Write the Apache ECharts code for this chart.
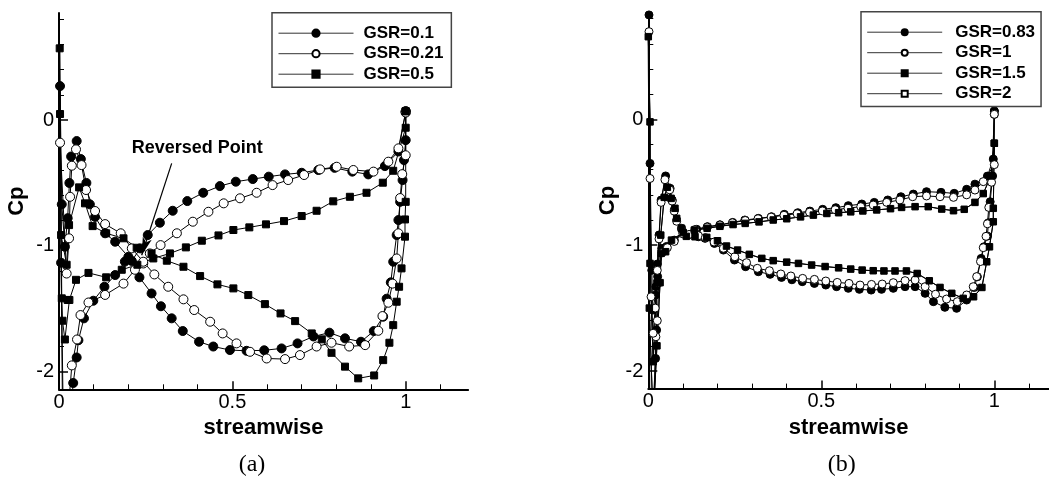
<!DOCTYPE html>
<html>
<head>
<meta charset="utf-8">
<title>Cp vs streamwise</title>
<script src="https://cdn.jsdelivr.net/npm/echarts@6/dist/echarts.min.js"></script>
<style>
html, body { margin: 0; padding: 0; background: #fff; }
#chart { width: 1049px; height: 477px; }
</style>
</head>
<body>
<div id="chart"></div>
<script>
// ticks
const xMajorTicks = [0, 0.5, 1];
const xMinorTicks = [0.1, 0.2, 0.3, 0.4, 0.6, 0.7, 0.8, 0.9, 1.1];
const yMajorTicks = [-2, -1, 0];
const yMinorTicks = [-1.8, -1.6, -1.4, -1.2, -0.8, -0.6, -0.4, -0.2, 0.2, 0.4, 0.6, 0.8];

// panel (a): [streamwise, Cp], each curve runs round the blade from the trailing edge
const gsr01 = [
  [1.0, 0.07], [0.979, -0.25], [0.94, -0.366], [0.892, -0.432], [0.846, -0.41], [0.795, -0.38],
  [0.748, -0.397], [0.70, -0.419], [0.652, -0.432], [0.605, -0.45], [0.559, -0.469], [0.51, -0.49],
  [0.464, -0.525], [0.416, -0.578], [0.37, -0.644], [0.328, -0.721], [0.291, -0.816], [0.256, -0.914],
  [0.234, -1.02], [0.21, -1.12], [0.19, -1.125], [0.162, -1.232], [0.131, -1.325], [0.099, -1.436],
  [0.072, -1.576], [0.056, -1.75], [0.051, -1.887], [0.041, -2.09], [0.03, -2.45], [0.012, -2.3],
  [0.006, -1.134], [0.003, 0.27], [0.008, -0.67], [0.017, -1.007], [0.025, -0.78], [0.03, -0.5],
  [0.035, -0.29], [0.051, -0.167], [0.063, -0.31], [0.079, -0.5], [0.089, -0.67], [0.104, -0.77],
  [0.133, -0.9], [0.162, -0.967], [0.2, -1.087], [0.232, -1.25], [0.267, -1.378], [0.294, -1.48],
  [0.325, -1.576], [0.357, -1.677], [0.404, -1.762], [0.445, -1.8], [0.493, -1.828], [0.541, -1.834],
  [0.592, -1.83], [0.642, -1.815], [0.688, -1.775], [0.734, -1.72], [0.78, -1.69], [0.825, -1.735],
  [0.871, -1.762], [0.908, -1.677], [0.935, -1.563], [0.945, -1.42], [0.957, -1.29], [0.964, -1.126],
  [0.974, -0.914], [0.979, -0.795], [0.984, -0.65], [0.991, -0.477], [0.995, -0.318], [1.0, -0.16],
  [1.0, 0.07]
];
const gsr021 = [
  [1.0, 0.06], [0.979, -0.225], [0.95, -0.331], [0.907, -0.41], [0.849, -0.397], [0.801, -0.371],
  [0.753, -0.392], [0.707, -0.437], [0.661, -0.477], [0.616, -0.517], [0.57, -0.578], [0.522, -0.622],
  [0.475, -0.662], [0.431, -0.729], [0.386, -0.808], [0.34, -0.9], [0.293, -0.994], [0.262, -1.06],
  [0.243, -1.14], [0.219, -1.19], [0.186, -1.3], [0.133, -1.39], [0.085, -1.45], [0.062, -1.55],
  [0.052, -1.744], [0.037, -1.95], [0.024, -2.4], [0.01, -2.3], [0.003, -0.18], [0.022, -1.22],
  [0.029, -0.94], [0.032, -0.61], [0.037, -0.363], [0.049, -0.233], [0.065, -0.358], [0.078, -0.556],
  [0.104, -0.723], [0.133, -0.827], [0.178, -0.9], [0.21, -1.02], [0.243, -1.126], [0.275, -1.227],
  [0.315, -1.325], [0.359, -1.425], [0.39, -1.51], [0.436, -1.603], [0.472, -1.696], [0.512, -1.775],
  [0.551, -1.842], [0.599, -1.895], [0.652, -1.9], [0.695, -1.868], [0.743, -1.8], [0.786, -1.77],
  [0.837, -1.8], [0.883, -1.789], [0.921, -1.675], [0.933, -1.558], [0.95, -1.452], [0.962, -1.3],
  [0.974, -1.1], [0.979, -0.9], [0.984, -0.62], [0.99, -0.43], [1.0, -0.28], [1.0, 0.06]
];
const gsr05 = [
  [1.0, 0.07], [1.0, -0.061], [0.964, -0.403], [0.934, -0.498], [0.887, -0.578], [0.839, -0.61],
  [0.791, -0.646], [0.743, -0.721], [0.70, -0.763], [0.649, -0.803], [0.597, -0.829], [0.549, -0.853],
  [0.503, -0.874], [0.46, -0.917], [0.412, -0.959], [0.366, -1.012], [0.32, -1.06], [0.272, -1.1],
  [0.226, -1.15], [0.181, -1.19], [0.136, -1.25], [0.085, -1.215], [0.049, -1.27], [0.03, -1.43],
  [0.025, -1.43], [0.017, -1.744], [0.01, -1.595], [0.008, -1.417], [0.002, 0.57], [0.003, 0.048],
  [0.006, -0.914], [0.022, -1.15], [0.029, -0.835], [0.058, -0.535], [0.075, -0.662], [0.097, -0.843],
  [0.136, -0.9], [0.186, -0.94], [0.224, -1.015], [0.267, -1.06], [0.311, -1.118], [0.359, -1.166],
  [0.407, -1.24], [0.457, -1.306], [0.503, -1.338], [0.546, -1.391], [0.594, -1.463], [0.639, -1.537],
  [0.681, -1.598], [0.729, -1.696], [0.758, -1.743], [0.786, -1.85], [0.825, -1.96], [0.863, -2.053],
  [0.909, -2.03], [0.935, -1.908], [0.953, -1.77], [0.964, -1.63], [0.974, -1.444], [0.981, -1.325],
  [0.988, -1.179], [0.998, -0.927], [0.998, -0.79], [1.0, -0.65], [1.0, 0.07]
];

// panel (b)
const gsr083 = [
  [1.0, 0.066], [0.997, -0.316], [0.98, -0.451], [0.944, -0.515], [0.92, -0.556], [0.884, -0.588],
  [0.846, -0.58], [0.804, -0.575], [0.766, -0.594], [0.73, -0.615], [0.692, -0.641], [0.653, -0.66],
  [0.617, -0.673], [0.578, -0.686], [0.542, -0.702], [0.504, -0.715], [0.467, -0.729], [0.432, -0.742],
  [0.393, -0.755], [0.356, -0.774], [0.318, -0.787], [0.279, -0.8], [0.244, -0.819], [0.207, -0.838],
  [0.171, -0.853], [0.14, -0.874], [0.1, -0.9], [0.075, -0.96], [0.053, -1.01], [0.039, -1.025],
  [0.027, -1.25], [0.022, -1.33], [0.024, -1.675], [0.021, -1.9], [0.012, -2.4], [0.004, -2.4],
  [0.002, 0.83], [0.005, -0.35], [0.01, -1.2], [0.013, -1.516], [0.021, -1.396], [0.026, -1.15],
  [0.031, -0.919], [0.037, -0.641], [0.05, -0.45], [0.063, -0.548], [0.069, -0.641], [0.075, -0.72],
  [0.082, -0.8], [0.096, -0.866], [0.116, -0.919], [0.145, -0.933], [0.164, -0.946], [0.191, -0.986],
  [0.217, -1.039], [0.249, -1.118], [0.281, -1.171], [0.318, -1.211], [0.352, -1.232], [0.385, -1.256],
  [0.415, -1.275], [0.445, -1.29], [0.48, -1.304], [0.513, -1.317], [0.544, -1.33], [0.578, -1.343],
  [0.61, -1.351], [0.644, -1.357], [0.674, -1.351], [0.708, -1.343], [0.742, -1.33], [0.771, -1.33],
  [0.8, -1.383], [0.824, -1.449], [0.857, -1.494], [0.891, -1.502], [0.92, -1.436], [0.942, -1.336],
  [0.951, -1.251], [0.962, -1.105], [0.97, -1.013], [0.98, -0.928], [0.983, -0.822], [0.988, -0.655],
  [0.995, -0.45], [1.0, 0.066]
];
const gsr1 = [
  [1.0, 0.04], [1.0, -0.36], [0.968, -0.495], [0.944, -0.562], [0.92, -0.6], [0.882, -0.62],
  [0.843, -0.615], [0.804, -0.609], [0.764, -0.615], [0.727, -0.641], [0.689, -0.66], [0.65, -0.681],
  [0.614, -0.694], [0.577, -0.706], [0.54, -0.718], [0.503, -0.728], [0.466, -0.738], [0.43, -0.75],
  [0.392, -0.762], [0.355, -0.777], [0.317, -0.79], [0.28, -0.804], [0.243, -0.822], [0.207, -0.84],
  [0.17, -0.856], [0.135, -0.876], [0.1, -0.91], [0.075, -0.97], [0.055, -1.02], [0.04, -1.06],
  [0.03, -1.3], [0.026, -1.6], [0.022, -1.728], [0.015, -2.4], [0.004, -2.4], [0.002, 0.697],
  [0.005, -0.47], [0.008, -1.41], [0.014, -1.7], [0.02, -1.5], [0.026, -1.2], [0.031, -0.95],
  [0.037, -0.66], [0.048, -0.48], [0.062, -0.56], [0.069, -0.65], [0.075, -0.73], [0.082, -0.81],
  [0.096, -0.87], [0.118, -0.915], [0.145, -0.925], [0.165, -0.94], [0.19, -0.975], [0.217, -1.025],
  [0.25, -1.092], [0.284, -1.139], [0.315, -1.184], [0.35, -1.203], [0.383, -1.229], [0.412, -1.245],
  [0.446, -1.264], [0.48, -1.272], [0.513, -1.285], [0.546, -1.296], [0.58, -1.304], [0.612, -1.317],
  [0.645, -1.312], [0.676, -1.309], [0.708, -1.298], [0.742, -1.282], [0.771, -1.277], [0.8, -1.33],
  [0.83, -1.39], [0.862, -1.428], [0.893, -1.449], [0.92, -1.396], [0.939, -1.33], [0.949, -1.25],
  [0.96, -1.13], [0.968, -1.02], [0.976, -0.93], [0.98, -0.83], [0.984, -0.7], [0.992, -0.5],
  [1.0, 0.04]
];
const gsr15 = [
  [1.0, -0.19], [0.99, -0.45], [0.968, -0.59], [0.944, -0.66], [0.913, -0.715], [0.882, -0.726],
  [0.848, -0.713], [0.809, -0.694], [0.771, -0.694], [0.732, -0.7], [0.7, -0.71], [0.66, -0.72],
  [0.62, -0.728], [0.585, -0.735], [0.55, -0.742], [0.516, -0.748], [0.477, -0.761], [0.44, -0.775],
  [0.4, -0.79], [0.361, -0.8], [0.32, -0.815], [0.28, -0.827], [0.245, -0.836], [0.207, -0.85],
  [0.17, -0.866], [0.133, -0.88], [0.101, -0.9], [0.067, -0.96], [0.05, -1.052], [0.037, -1.065],
  [0.034, -1.298], [0.025, -1.8], [0.014, -2.4], [0.003, -1.5], [0.0, 0.657], [0.005, -0.02],
  [0.005, -1.145], [0.014, -1.926], [0.025, -1.3], [0.036, -0.92], [0.046, -0.62], [0.055, -0.54],
  [0.066, -0.628], [0.077, -0.707], [0.082, -0.787], [0.096, -0.866], [0.11, -0.93], [0.135, -0.933],
  [0.169, -0.938], [0.2, -0.965], [0.226, -1.007], [0.258, -1.039], [0.292, -1.073], [0.328, -1.105],
  [0.361, -1.123], [0.4, -1.135], [0.434, -1.145], [0.472, -1.158], [0.511, -1.17], [0.55, -1.18],
  [0.585, -1.19], [0.618, -1.198], [0.65, -1.203], [0.681, -1.205], [0.713, -1.205], [0.746, -1.205],
  [0.777, -1.225], [0.812, -1.283], [0.843, -1.336], [0.877, -1.383], [0.91, -1.423], [0.94, -1.41],
  [0.964, -1.336], [0.978, -1.132], [0.986, -1.013], [0.997, -0.814], [0.997, -0.707], [1.0, -0.19]
];
// GSR=2 lies under GSR=1.5 in the picture
const gsr2 = [
  [1.0, -0.19], [0.99, -0.45], [0.968, -0.59], [0.944, -0.66], [0.913, -0.715], [0.882, -0.726],
  [0.848, -0.713], [0.809, -0.694], [0.771, -0.694], [0.732, -0.7], [0.7, -0.71], [0.66, -0.72],
  [0.62, -0.728], [0.585, -0.735], [0.55, -0.742], [0.516, -0.748], [0.477, -0.761], [0.44, -0.775],
  [0.4, -0.79], [0.361, -0.8], [0.32, -0.815], [0.28, -0.827], [0.245, -0.836], [0.207, -0.85],
  [0.17, -0.866], [0.133, -0.88], [0.101, -0.9], [0.067, -0.96], [0.05, -1.052], [0.037, -1.065],
  [0.034, -1.298], [0.025, -1.8], [0.014, -2.4], [0.003, -1.5], [0.0, 0.657], [0.005, -0.02],
  [0.005, -1.145], [0.014, -1.926], [0.025, -1.3], [0.036, -0.92], [0.046, -0.62], [0.055, -0.54],
  [0.066, -0.628], [0.077, -0.707], [0.082, -0.787], [0.096, -0.866], [0.11, -0.93], [0.135, -0.933],
  [0.169, -0.938], [0.2, -0.965], [0.226, -1.007], [0.258, -1.039], [0.292, -1.073], [0.328, -1.105],
  [0.361, -1.123], [0.4, -1.135], [0.434, -1.145], [0.472, -1.158], [0.511, -1.17], [0.55, -1.18],
  [0.585, -1.19], [0.618, -1.198], [0.65, -1.203], [0.681, -1.205], [0.713, -1.205], [0.746, -1.205],
  [0.777, -1.225], [0.812, -1.283], [0.843, -1.336], [0.877, -1.383], [0.91, -1.423], [0.94, -1.41],
  [0.964, -1.336], [0.978, -1.132], [0.986, -1.013], [0.997, -0.814], [0.997, -0.707], [1.0, -0.19]
];

// "Reversed Point" note, data coords of panel (a)
const noteText = [0.399, -0.223];
const arrowFrom = [0.325, -0.344];
const arrowTo = [0.2385, -1.075];

const FONT = 'Liberation Sans';

function xAxes(grid, max) {
  return [{
    type: 'value', gridIndex: grid, min: 0, max: max, position: 'bottom',
    axisLine: { show: true, onZero: false, lineStyle: { color: '#000', width: 2 } },
    axisTick: { show: true, inside: true, length: 8, customValues: xMajorTicks, lineStyle: { color: '#000', width: 1.5 } },
    axisLabel: { customValues: xMajorTicks, fontSize: 20, fontFamily: FONT, color: '#000', margin: 3 },
    splitLine: { show: false },
    name: 'streamwise', nameLocation: 'middle', nameGap: 22,
    nameTextStyle: { fontSize: 22, fontWeight: 'bold', fontFamily: FONT, color: '#000' }
  }, {
    // minor ticks only
    type: 'value', gridIndex: grid, min: 0, max: max, position: 'bottom',
    axisLine: { show: false, onZero: false },
    axisTick: { show: true, inside: true, length: 5, customValues: xMinorTicks, lineStyle: { color: '#000', width: 1 } },
    axisLabel: { show: false },
    splitLine: { show: false }
  }];
}

function yAxes(grid, gap) {
  return [{
    type: 'value', gridIndex: grid, min: -2.14, max: 0.85, position: 'left',
    axisLine: { show: true, onZero: false, lineStyle: { color: '#000', width: 2 } },
    axisTick: { show: true, inside: true, length: 9, customValues: yMajorTicks, lineStyle: { color: '#000', width: 1.5 } },
    axisLabel: { customValues: yMajorTicks, fontSize: 20, fontFamily: FONT, color: '#000', margin: 5 },
    splitLine: { show: false },
    name: 'Cp', nameLocation: 'middle', nameGap: gap,
    nameTextStyle: { fontSize: 22, fontWeight: 'bold', fontFamily: FONT, color: '#000' }
  }, {
    type: 'value', gridIndex: grid, min: -2.14, max: 0.85, position: 'left',
    axisLine: { show: false, onZero: false },
    axisTick: { show: true, inside: true, length: 5, customValues: yMinorTicks, lineStyle: { color: '#000', width: 1 } },
    axisLabel: { show: false },
    splitLine: { show: false }
  }];
}

function curve(name, data, axis, symbol, size, filled) {
  return {
    name: name, type: 'line', data: data,
    xAxisIndex: axis, yAxisIndex: axis,
    symbol: symbol, symbolSize: size, showSymbol: true, showAllSymbol: true,
    lineStyle: { color: '#000', width: 1 },
    itemStyle: { color: filled ? '#000' : '#fff', borderColor: '#000', borderWidth: 1 },
    emphasis: { disabled: true },
    clip: true
  };
}

const legendBase = {
  orient: 'vertical', itemGap: 3.5, itemWidth: 75, selectedMode: false,
  borderColor: '#444', borderWidth: 1.5, backgroundColor: '#fff',
  lineStyle: { width: 1, color: '#333' },
  textStyle: { fontSize: 17, fontWeight: 'bold', fontFamily: FONT, color: '#000' }
};

const s01 = curve('GSR=0.1', gsr01, 0, 'circle', 9, true);
s01.markLine = {
  silent: true, animation: false,
  symbol: ['none', 'arrow'],
  lineStyle: { color: '#000', width: 1.2, type: 'solid' },
  label: { show: false },
  data: [[{ coord: arrowFrom, symbol: 'none' }, { coord: arrowTo, symbol: 'arrow', symbolSize: [7, 18] }]]
};
s01.markPoint = {
  silent: true, animation: false,
  symbol: 'circle', symbolSize: 1,
  itemStyle: { color: 'rgba(0,0,0,0)' },
  label: { show: true, position: 'inside', formatter: 'Reversed Point', fontSize: 18, fontWeight: 'bold', fontFamily: FONT, color: '#000' },
  data: [{ coord: noteText }]
};

const chart = echarts.init(document.getElementById('chart'));
chart.setOption({
  animation: false,
  backgroundColor: '#fff',
  grid: [
    { left: 59, top: 13.1, width: 409.1, height: 376.2 },
    { left: 648.3, top: 12.4, width: 400.7, height: 376.2 }
  ],
  xAxis: xAxes(0, 1.18).concat(xAxes(1, 1.158)),
  yAxis: yAxes(0, 31).concat(yAxes(1, 29.5)),
  legend: [
    Object.assign({}, legendBase, {
      data: ['GSR=0.1', 'GSR=0.21', 'GSR=0.5'],
      left: 272, top: 12.7, itemHeight: 9, padding: [12, 8, 4.5, 6],
      textStyle: Object.assign({}, legendBase.textStyle, { padding: [0, 0, 0, 5] })
    }),
    Object.assign({}, legendBase, {
      data: ['GSR=0.83', 'GSR=1', 'GSR=1.5', 'GSR=2'],
      left: 861, top: 11.7, itemHeight: 7.5, padding: [12, 6, 4.2, 5.7],
      textStyle: Object.assign({}, legendBase.textStyle, { padding: [0, 0, 0, 8] })
    })
  ],
  graphic: [
    { type: 'text', x: 252, y: 465, style: { text: '(a)', fontSize: 24, fontFamily: 'Liberation Serif', fill: '#000', align: 'center', verticalAlign: 'middle' } },
    { type: 'text', x: 841.7, y: 465, style: { text: '(b)', fontSize: 24, fontFamily: 'Liberation Serif', fill: '#000', align: 'center', verticalAlign: 'middle' } }
  ],
  series: [
    s01,
    curve('GSR=0.21', gsr021, 0, 'circle', 9, false),
    curve('GSR=0.5', gsr05, 0, 'rect', 7, true),
    curve('GSR=2', gsr2, 2, 'rect', 5, false),
    curve('GSR=0.83', gsr083, 2, 'circle', 8, true),
    curve('GSR=1', gsr1, 2, 'circle', 8, false),
    curve('GSR=1.5', gsr15, 2, 'rect', 6.5, true)
  ]
});
</script>
</body>
</html>
